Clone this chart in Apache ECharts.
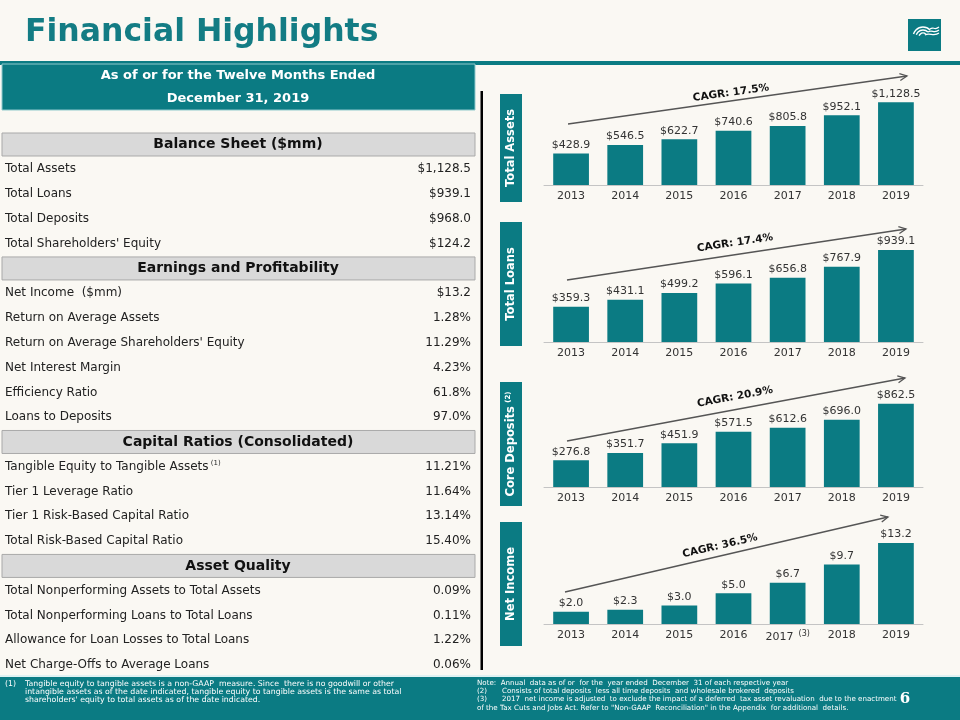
<!DOCTYPE html>
<html><head><meta charset="utf-8">
<script src="https://cdn.jsdelivr.net/npm/echarts@6/dist/echarts.min.js"></script>
<style>html,body{margin:0;padding:0;background:#faf8f3}#c{width:960px;height:720px}</style>
</head><body><div id="c"></div>
<script>
// ---------- data ----------
const years = ['2013', '2014', '2015', '2016', '2017', '2018', '2019'];
const totalAssets = [428.9, 546.5, 622.7, 740.6, 805.8, 952.1, 1128.5];
const totalLoans = [359.3, 431.1, 499.2, 596.1, 656.8, 767.9, 939.1];
const coreDeposits = [276.8, 351.7, 451.9, 571.5, 612.6, 696.0, 862.5];
const netIncome = [2.0, 2.3, 3.0, 5.0, 6.7, 9.7, 13.2];
const chartTitles = ['Total Assets', 'Total Loans', 'Core Deposits', 'Net Income'];
const cagrLabels = ['CAGR: 17.5%', 'CAGR: 17.4%', 'CAGR: 20.9%', 'CAGR: 36.5%'];

const sectionTitles = ['Balance Sheet ($mm)', 'Earnings and Profitability', 'Capital Ratios (Consolidated)', 'Asset Quality'];
const balanceLabels = ['Total Assets', 'Total Loans', 'Total Deposits', "Total Shareholders' Equity"];
const balanceValues = ['$1,128.5', '$939.1', '$968.0', '$124.2'];
const earningsLabels = ['Net Income  ($mm)', 'Return on Average Assets', "Return on Average Shareholders' Equity", 'Net Interest Margin', 'Efficiency Ratio', 'Loans to Deposits'];
const earningsValues = ['$13.2', '1.28%', '11.29%', '4.23%', '61.8%', '97.0%'];
const capitalLabels = ['Tangible Equity to Tangible Assets', 'Tier 1 Leverage Ratio', 'Tier 1 Risk-Based Capital Ratio', 'Total Risk-Based Capital Ratio'];
const capitalValues = ['11.21%', '11.64%', '13.14%', '15.40%'];
const qualityLabels = ['Total Nonperforming Assets to Total Assets', 'Total Nonperforming Loans to Total Loans', 'Allowance for Loan Losses to Total Loans', 'Net Charge-Offs to Average Loans'];
const qualityValues = ['0.09%', '0.11%', '1.22%', '0.06%'];

// ---------- styles ----------
const TEAL = '#0b7b83';
const FONT = "'DejaVu Sans', Verdana, sans-serif";
const W = 960;

const seriesData = [totalAssets, totalLoans, coreDeposits, netIncome];
const axisMax = [1200, 1000, 900, 14];
const gridBox = [{ top: 97, height: 88 }, { top: 244, height: 98 }, { top: 400, height: 87 }, { top: 538, height: 86 }];
const labelBox = [{ y: 94, h: 108 }, { y: 222, h: 124 }, { y: 382, h: 124 }, { y: 522, h: 124 }];
const arrows = [
  { x1: 568, y1: 124, x2: 907, y2: 76, tx: 731, ty: 93 },
  { x1: 567, y1: 280, x2: 906, y2: 229, tx: 735, ty: 243 },
  { x1: 567, y1: 441, x2: 905, y2: 378, tx: 735, ty: 397 },
  { x1: 565, y1: 592, x2: 888, y2: 517, tx: 720, ty: 546 }
];

function fmt(v) {
  const s = v.toFixed(1).split('.');
  return '$' + s[0].replace(/\B(?=(\d{3})+(?!\d))/g, ',') + '.' + s[1];
}

const grid = [], xAxis = [], yAxis = [], series = [];
for (let i = 0; i < 4; i++) {
  grid.push({ left: 544, right: 37, top: gridBox[i].top, height: gridBox[i].height });
  xAxis.push({
    type: 'category', gridIndex: i, data: years,
    axisLine: { lineStyle: { color: '#c4c4c4', width: 1 } },
    axisTick: { show: false },
    axisLabel: {
      interval: 0, hideOverlap: false,
      color: '#333', fontSize: 11, fontFamily: FONT, margin: 6,
      formatter: i === 3 ? (v => v === '2017' ? '{y|2017}{s|  (3)}' : '{y|' + v + '}') : null,
      rich: i === 3 ? { y: { fontSize: 11, fontFamily: FONT, color: '#333' }, s: { fontSize: 8, fontFamily: FONT, color: '#333', padding: [0, 0, 6, 0] } } : undefined
    }
  });
  yAxis.push({ type: 'value', gridIndex: i, min: 0, max: axisMax[i], show: false, splitLine: { show: false } });
  series.push({
    type: 'bar', xAxisIndex: i, yAxisIndex: i, data: seriesData[i], barWidth: '66%',
    itemStyle: { color: TEAL },
    label: { show: true, position: 'top', distance: 3, color: '#333', fontSize: 11, fontFamily: FONT, formatter: p => fmt(p.value) },
    silent: true
  });
}

// ---------- graphics ----------
const g = [];
function txt(x, y, text, o) {
  g.push(Object.assign({
    type: 'text', x: x, y: y, silent: true,
    style: Object.assign({ text: text, fontFamily: FONT, fontSize: 12, fill: '#222', textAlign: 'left', textVerticalAlign: 'middle' }, o || {})
  }));
}
// title
txt(25, 33, 'Financial Highlights', { fontSize: 31.5, fontWeight: 'bold', fill: '#137c84' });
// logo
g.push({ type: 'rect', shape: { x: 908, y: 19, width: 33, height: 32 }, style: { fill: TEAL }, silent: true });
[4, 7, 10].forEach(r => {
  g.push({ type: 'arc', shape: { cx: 923, cy: 37, r: r, startAngle: -Math.PI * 0.25, endAngle: Math.PI * 1.1, clockwise: false }, style: { stroke: '#fff', fill: null, lineWidth: 1.4 }, silent: true });
});
[[926, 34], [929, 31], [931, 28]].forEach((p) => {
  g.push({ type: 'bezierCurve', shape: { x1: p[0] - 1, y1: p[1] + 1, cpx1: p[0] + 3, cpy1: p[1] - 2, cpx2: 934, cpy2: p[1] + 3, x2: 939, y2: p[1] - 1 }, style: { stroke: '#fff', fill: null, lineWidth: 1.2 }, silent: true });
});
// top teal rule
g.push({ type: 'rect', shape: { x: 0, y: 61, width: W, height: 4 }, style: { fill: TEAL }, silent: true });
// header box
g.push({ type: 'rect', shape: { x: 2, y: 64, width: 473, height: 46 }, style: { fill: TEAL, stroke: '#8fc9cc', lineWidth: 1 }, silent: true });
txt(238, 76, 'As of or for the Twelve Months Ended', { fill: '#fff', fontWeight: 'bold', fontSize: 13, textAlign: 'center' });
txt(238, 99, 'December 31, 2019', { fill: '#fff', fontWeight: 'bold', fontSize: 13, textAlign: 'center' });

// table
const sections = [
  [balanceLabels, balanceValues],
  [earningsLabels, earningsValues],
  [capitalLabels, capitalValues],
  [qualityLabels, qualityValues]
];
let cy = 144.5;
const pitch = 24.79;
sections.forEach((sec, si) => {
  g.push({ type: 'rect', shape: { x: 2, y: cy - 11.5, width: 473, height: 23 }, style: { fill: '#d9d9d9', stroke: '#a9a9a9', lineWidth: 1 }, silent: true });
  txt(238, cy, sectionTitles[si], { fontWeight: 'bold', fontSize: 14, textAlign: 'center', fill: '#111' });
  cy += pitch;
  sec[0].forEach((lab, ri) => {
    if (si === 2 && ri === 0) {
      txt(5, cy, '{a|' + lab + '}{s| (1)}', { rich: { a: { fontSize: 12, fontFamily: FONT, fill: '#222', color: '#222' }, s: { fontSize: 7, fontFamily: FONT, fill: '#222', color: '#222', padding: [0, 0, 8, 0] } } });
    } else {
      txt(5, cy, lab);
    }
    txt(471, cy, sec[1][ri], { textAlign: 'right' });
    cy += pitch;
  });
});

// vertical divider
g.push({ type: 'rect', shape: { x: 480.5, y: 91, width: 2.5, height: 579 }, style: { fill: '#000' }, silent: true });

// chart side labels
labelBox.forEach((b, i) => {
  g.push({ type: 'rect', shape: { x: 500, y: b.y, width: 22, height: b.h }, style: { fill: TEAL }, silent: true });
  const t = i === 2 ? '{a|Core Deposits} {s|(2)}' : '{a|' + chartTitles[i] + '}';
  g.push({
    type: 'text', x: 511, y: b.y + b.h / 2, rotation: Math.PI / 2, silent: true,
    style: {
      text: t, textAlign: 'center', textVerticalAlign: 'middle',
      rich: { a: { fontSize: 11.5, fontWeight: 'bold', fontFamily: FONT, fill: '#fff', color: '#fff' }, s: { fontSize: 7, fontWeight: 'bold', fontFamily: FONT, fill: '#fff', color: '#fff', padding: [0, 0, 6, 0] } }
    }
  });
});

// CAGR arrows
arrows.forEach((a, i) => {
  g.push({ type: 'line', shape: { x1: a.x1, y1: a.y1, x2: a.x2, y2: a.y2 }, style: { stroke: '#555', lineWidth: 1.3 }, silent: true });
  const ang = Math.atan2(a.y2 - a.y1, a.x2 - a.x1);
  const L = 8, sp = 0.45;
  g.push({
    type: 'polyline', silent: true,
    shape: { points: [[a.x2 - L * Math.cos(ang - sp), a.y2 - L * Math.sin(ang - sp)], [a.x2, a.y2], [a.x2 - L * Math.cos(ang + sp), a.y2 - L * Math.sin(ang + sp)]] },
    style: { stroke: '#555', fill: null, lineWidth: 1.3 }
  });
  g.push({
    type: 'text', x: a.tx, y: a.ty, rotation: -ang, silent: true,
    style: { text: cagrLabels[i], fontFamily: FONT, fontSize: 10.5, fontWeight: 'bold', fill: '#111', textAlign: 'center', textVerticalAlign: 'middle' }
  });
});

// footer
g.push({ type: 'rect', shape: { x: 0, y: 675, width: W, height: 2 }, style: { fill: '#dff1f2' }, silent: true });
g.push({ type: 'rect', shape: { x: 0, y: 677, width: W, height: 43 }, style: { fill: TEAL }, silent: true });
const fnStyle = { fill: '#fff', fontSize: 7.8, textVerticalAlign: 'middle' };
txt(5, 684, '(1)', fnStyle);
txt(25, 684, 'Tangible equity to tangible assets is a non-GAAP  measure. Since  there is no goodwill or other', fnStyle);
txt(25, 692, 'intangible assets as of the date indicated, tangible equity to tangible assets is the same as total', fnStyle);
txt(25, 700, "shareholders' equity to total assets as of the date indicated.", fnStyle);
const noteStyle = { fill: '#fff', fontSize: 7.1, textVerticalAlign: 'middle' };
txt(477, 683, 'Note:  Annual  data as of or  for the  year ended  December  31 of each respective year', noteStyle);
txt(477, 691, '(2)', noteStyle);
txt(502, 691, 'Consists of total deposits  less all time deposits  and wholesale brokered  deposits', noteStyle);
txt(477, 699, '(3)', noteStyle);
txt(502, 699, '2017  net income is adjusted  to exclude the impact of a deferred  tax asset revaluation  due to the enactment', noteStyle);
txt(477, 708, 'of the Tax Cuts and Jobs Act. Refer to "Non-GAAP  Reconciliation" in the Appendix  for additional  details.', noteStyle);
txt(905, 699, '6', { fill: '#fff', fontSize: 15, fontWeight: 'bold', fontFamily: "'DejaVu Serif', Georgia, serif", textAlign: 'center' });

const chart = echarts.init(document.getElementById('c'), null, { renderer: 'canvas' });
chart.setOption({
  backgroundColor: '#faf8f3',
  animation: false,
  grid: grid, xAxis: xAxis, yAxis: yAxis, series: series,
  graphic: g
});
</script></body></html>
